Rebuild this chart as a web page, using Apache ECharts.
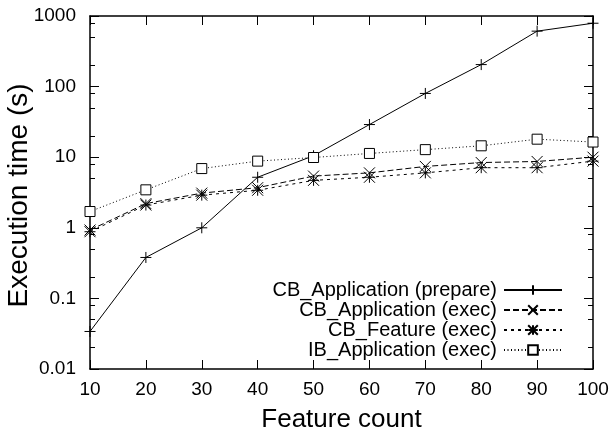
<!DOCTYPE html>
<html>
<head>
<meta charset="utf-8">
<script src="https://cdn.jsdelivr.net/npm/echarts@6/dist/echarts.min.js"></script>
<style>
html,body{margin:0;padding:0;background:#fff;}
#chart{width:614px;height:434px;}
</style>
</head>
<body>
<div id="chart"></div>
<script>
// ---- data ----
const featureCounts = [10, 20, 30, 40, 50, 60, 70, 80, 90, 100];
const cbAppPrepare = [0.034, 0.38, 1.0, 5.2, 10.5, 29, 80, 205, 610, 790];
const cbAppExec    = [0.93, 2.2, 3.1, 3.7, 5.4, 6.0, 7.4, 8.4, 8.7, 10.0];
const cbFeatExec   = [0.88, 2.1, 2.9, 3.4, 4.7, 5.2, 6.0, 7.1, 7.1, 8.8];
const ibAppExec    = [1.7, 3.45, 6.9, 8.8, 9.9, 11.3, 12.8, 14.5, 18.0, 16.4];
const seriesNames = ['CB_Application (prepare)', 'CB_Application (exec)', 'CB_Feature (exec)', 'IB_Application (exec)'];
const xTickValues = [10, 20, 30, 40, 50, 60, 70, 80, 90, 100];
const yTickValues = [0.01, 0.1, 1, 10, 100, 1000];
const yTickLabels = ['0.01', '0.1', '1', '10', '100', '1000'];
const yMinorTicks = [0.02, 0.05, 0.08, 0.2, 0.5, 0.8, 2, 5, 8, 20, 50, 80, 200, 500, 800];
const xTitle = 'Feature count';
const yTitle = 'Execution time (s)';

const FONT = '"Liberation Sans", Helvetica, Arial, sans-serif';
const pair = arr => featureCounts.map((x, i) => [x, arr[i]]);

const SYM_PLUS = 'path://M0,5L10,5M5,0L5,10';
const SYM_X = 'path://M0,0L10,10M10,0L0,10';
const SYM_STAR = 'path://M0,5L10,5M5,0L5,10M0,0L10,10M10,0L0,10';

const axisLine = {show: true, onZero: false, lineStyle: {color: '#000', width: 1.5}};
const majorTick = {show: true, inside: true, length: 9, lineStyle: {color: '#000', width: 1}};
const minorTickStyle = {show: true, inside: true, length: 5, lineStyle: {color: '#000', width: 1}, customValues: yMinorTicks};

function mkSeries(name, data, symbol, size, dash, fill) {
  return {
    name, type: 'line', data: pair(data),
    symbol, symbolSize: size, showSymbol: true,
    lineStyle: {color: '#000', width: 1, type: dash},
    itemStyle: {color: fill, borderColor: '#000', borderWidth: 1},
    emphasis: {disabled: true}, silent: true
  };
}

const chart = echarts.init(document.getElementById('chart'), null, {renderer: 'canvas'});
chart.setOption({
  animation: false,
  backgroundColor: '#fff',
  grid: {left: 90, right: 21, top: 16, bottom: 65, containLabel: false, outerBoundsMode: 'none'},
  legend: {
    orient: 'vertical', right: 46, top: 275, align: 'right',
    itemWidth: 58, itemHeight: 12, itemGap: 0,
    selectedMode: false,
    textStyle: {fontSize: 20, fontFamily: FONT, color: '#000', lineHeight: 20, padding: [0, 2, 0, 0]},
    data: seriesNames
  },
  xAxis: [
    {type: 'value', min: 10, max: 100, interval: 10, position: 'bottom',
     name: xTitle, nameLocation: 'middle', nameGap: 38, nameMoveOverlap: false,
     nameTextStyle: {fontSize: 26, fontFamily: FONT, color: '#000'},
     axisLine, axisTick: majorTick, splitLine: {show: false},
     axisLabel: {fontSize: 19, fontFamily: FONT, color: '#000', margin: 11,
       customValues: xTickValues, formatter: v => String(v)}},
    {type: 'value', min: 10, max: 100, interval: 10, position: 'top',
     axisLine, axisTick: majorTick, splitLine: {show: false}, axisLabel: {show: false}}
  ],
  yAxis: [
    {type: 'log', logBase: 10, min: 0.01, max: 1000, position: 'left',
     name: yTitle, nameLocation: 'middle', nameGap: 57, nameRotate: 90, nameMoveOverlap: false,
     nameTextStyle: {fontSize: 28, fontFamily: FONT, color: '#000', padding: [0, 6, 0, 0]},
     axisLine, axisTick: Object.assign({}, majorTick, {customValues: yTickValues}), splitLine: {show: false},
     axisLabel: {fontSize: 19, fontFamily: FONT, color: '#000', margin: 14,
       customValues: yTickValues,
       formatter: v => { const i = yTickValues.findIndex(t => Math.abs(Math.log10(t) - Math.log10(v)) < 1e-6); return i >= 0 ? yTickLabels[i] : ''; }}},
    {type: 'log', logBase: 10, min: 0.01, max: 1000, position: 'right',
     axisLine, axisTick: Object.assign({}, majorTick, {customValues: yTickValues}), splitLine: {show: false}, axisLabel: {show: false}},
    {type: 'log', logBase: 10, min: 0.01, max: 1000, position: 'left',
     axisLine: {show: false}, axisTick: minorTickStyle, splitLine: {show: false}, axisLabel: {show: false}},
    {type: 'log', logBase: 10, min: 0.01, max: 1000, position: 'right',
     axisLine: {show: false}, axisTick: minorTickStyle, splitLine: {show: false}, axisLabel: {show: false}}
  ],
  series: [
    mkSeries(seriesNames[0], cbAppPrepare, SYM_PLUS, 11, 'solid', '#000'),
    mkSeries(seriesNames[1], cbAppExec, SYM_X, 11, [6, 3], '#000'),
    mkSeries(seriesNames[2], cbFeatExec, SYM_STAR, 11, [3, 4], '#000'),
    mkSeries(seriesNames[3], ibAppExec, 'rect', 10, [1, 2.5], '#fff')
  ]
});
</script>
</body>
</html>
